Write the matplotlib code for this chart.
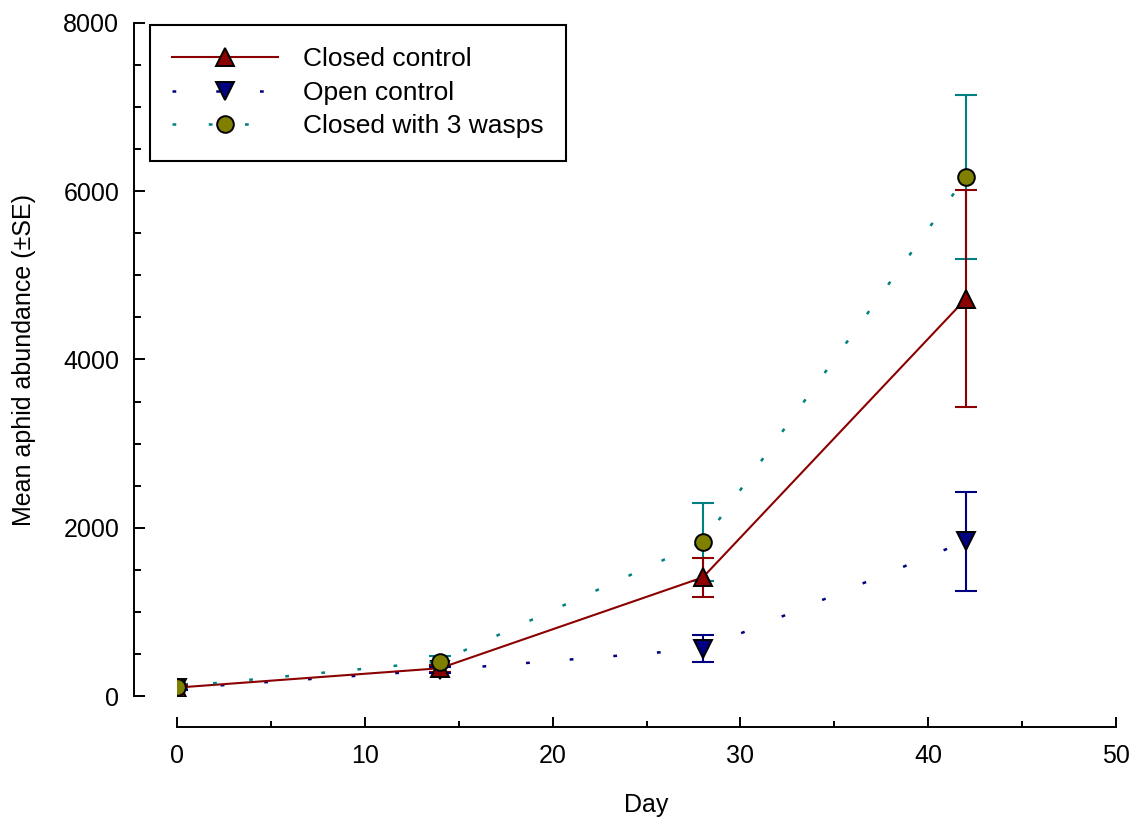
import matplotlib
matplotlib.use("Agg")
import matplotlib.pyplot as plt
from matplotlib.ticker import MultipleLocator
from matplotlib.lines import Line2D

# data
days = [0, 14, 28, 42]
closed_mean = [100, 330, 1410, 4720]
closed_se = [30, 40, 230, 1290]
open_mean = [90, 310, 560, 1840]
open_se = [20, 40, 160, 590]
wasp_mean = [110, 410, 1830, 6170]
wasp_se = [30, 60, 460, 970]

labels = ["Closed control", "Open control", "Closed with 3 wasps"]

red = "#8b0000"
navy = "#000080"
teal = "#008080"
olive = "#808000"

plt.rcParams['font.family'] = ['Liberation Sans', 'DejaVu Sans']

fig = plt.figure(figsize=(11.36, 8.21), dpi=100)
ax = fig.add_axes([177 / 1136, 1 - 696 / 821, 939 / 1136, 673 / 821])

open_dots = (0, (1.5, 16))
wasp_dots = (0, (1.5, 13))

# error bars first
for m, se, c in [(wasp_mean, wasp_se, teal), (closed_mean, closed_se, red), (open_mean, open_se, navy)]:
    ax.errorbar(days, m, yerr=se, fmt='none', ecolor=c, elinewidth=1.5,
                capsize=8, capthick=1.5, zorder=2)

ax.plot(days, open_mean, color=navy, lw=1.8, linestyle=open_dots,
        marker='v', ms=13, mfc=navy, mec='black', mew=1.4, zorder=3)
ax.plot(days, closed_mean, color=red, lw=1.5, linestyle='-',
        marker='^', ms=13, mfc=red, mec='black', mew=1.4, zorder=4)
ax.plot(days, wasp_mean, color=teal, lw=1.8, linestyle=wasp_dots,
        marker='o', ms=12, mfc=olive, mec='black', mew=1.4, zorder=5)

ax.set_xlim(0, 50)
ax.set_ylim(0, 8000)
ax.xaxis.set_major_locator(MultipleLocator(10))
ax.xaxis.set_minor_locator(MultipleLocator(5))
ax.yaxis.set_major_locator(MultipleLocator(2000))
ax.yaxis.set_minor_locator(MultipleLocator(500))

for s in ['top', 'right']:
    ax.spines[s].set_visible(False)
ax.spines['left'].set_position(('outward', 31))
ax.spines['bottom'].set_position(('outward', 22))
ax.spines['left'].set_bounds(0, 8000)
ax.spines['bottom'].set_bounds(0, 50)
for s in ['left', 'bottom']:
    ax.spines[s].set_linewidth(1.4)

ax.tick_params(axis='both', which='both', direction='in', width=1.4, labelsize=18)
ax.tick_params(axis='y', which='major', length=8, pad=10.5)
ax.tick_params(axis='y', which='minor', length=5)
ax.tick_params(axis='x', which='major', length=7.5, pad=12.5)
ax.tick_params(axis='x', which='minor', length=4.5)

ax.set_xlabel("Day", fontsize=18, labelpad=18)
ax.set_ylabel("Mean aphid abundance (±SE)", fontsize=18, labelpad=20)

handles = [
    Line2D([], [], color=red, lw=1.5, ls='-', marker='^', ms=13, mfc=red, mec='black', mew=1.4),
    Line2D([], [], color=navy, lw=1.8, ls=open_dots, marker='v', ms=13, mfc=navy, mec='black', mew=1.4),
    Line2D([], [], color=teal, lw=1.8, ls=wasp_dots, marker='o', ms=12, mfc=olive, mec='black', mew=1.4),
]
leg = ax.legend(handles, labels, loc='upper left', bbox_to_anchor=(150 / 1136, 1 - 25 / 821),
                bbox_transform=fig.transFigure, borderaxespad=0, fontsize=19,
                handlelength=4.0, handletextpad=0.95, labelspacing=0.36, borderpad=0.85,
                fancybox=False, framealpha=1, edgecolor='black')
leg.get_frame().set_linewidth(1.5)

fig.savefig("out.png", dpi=100)
